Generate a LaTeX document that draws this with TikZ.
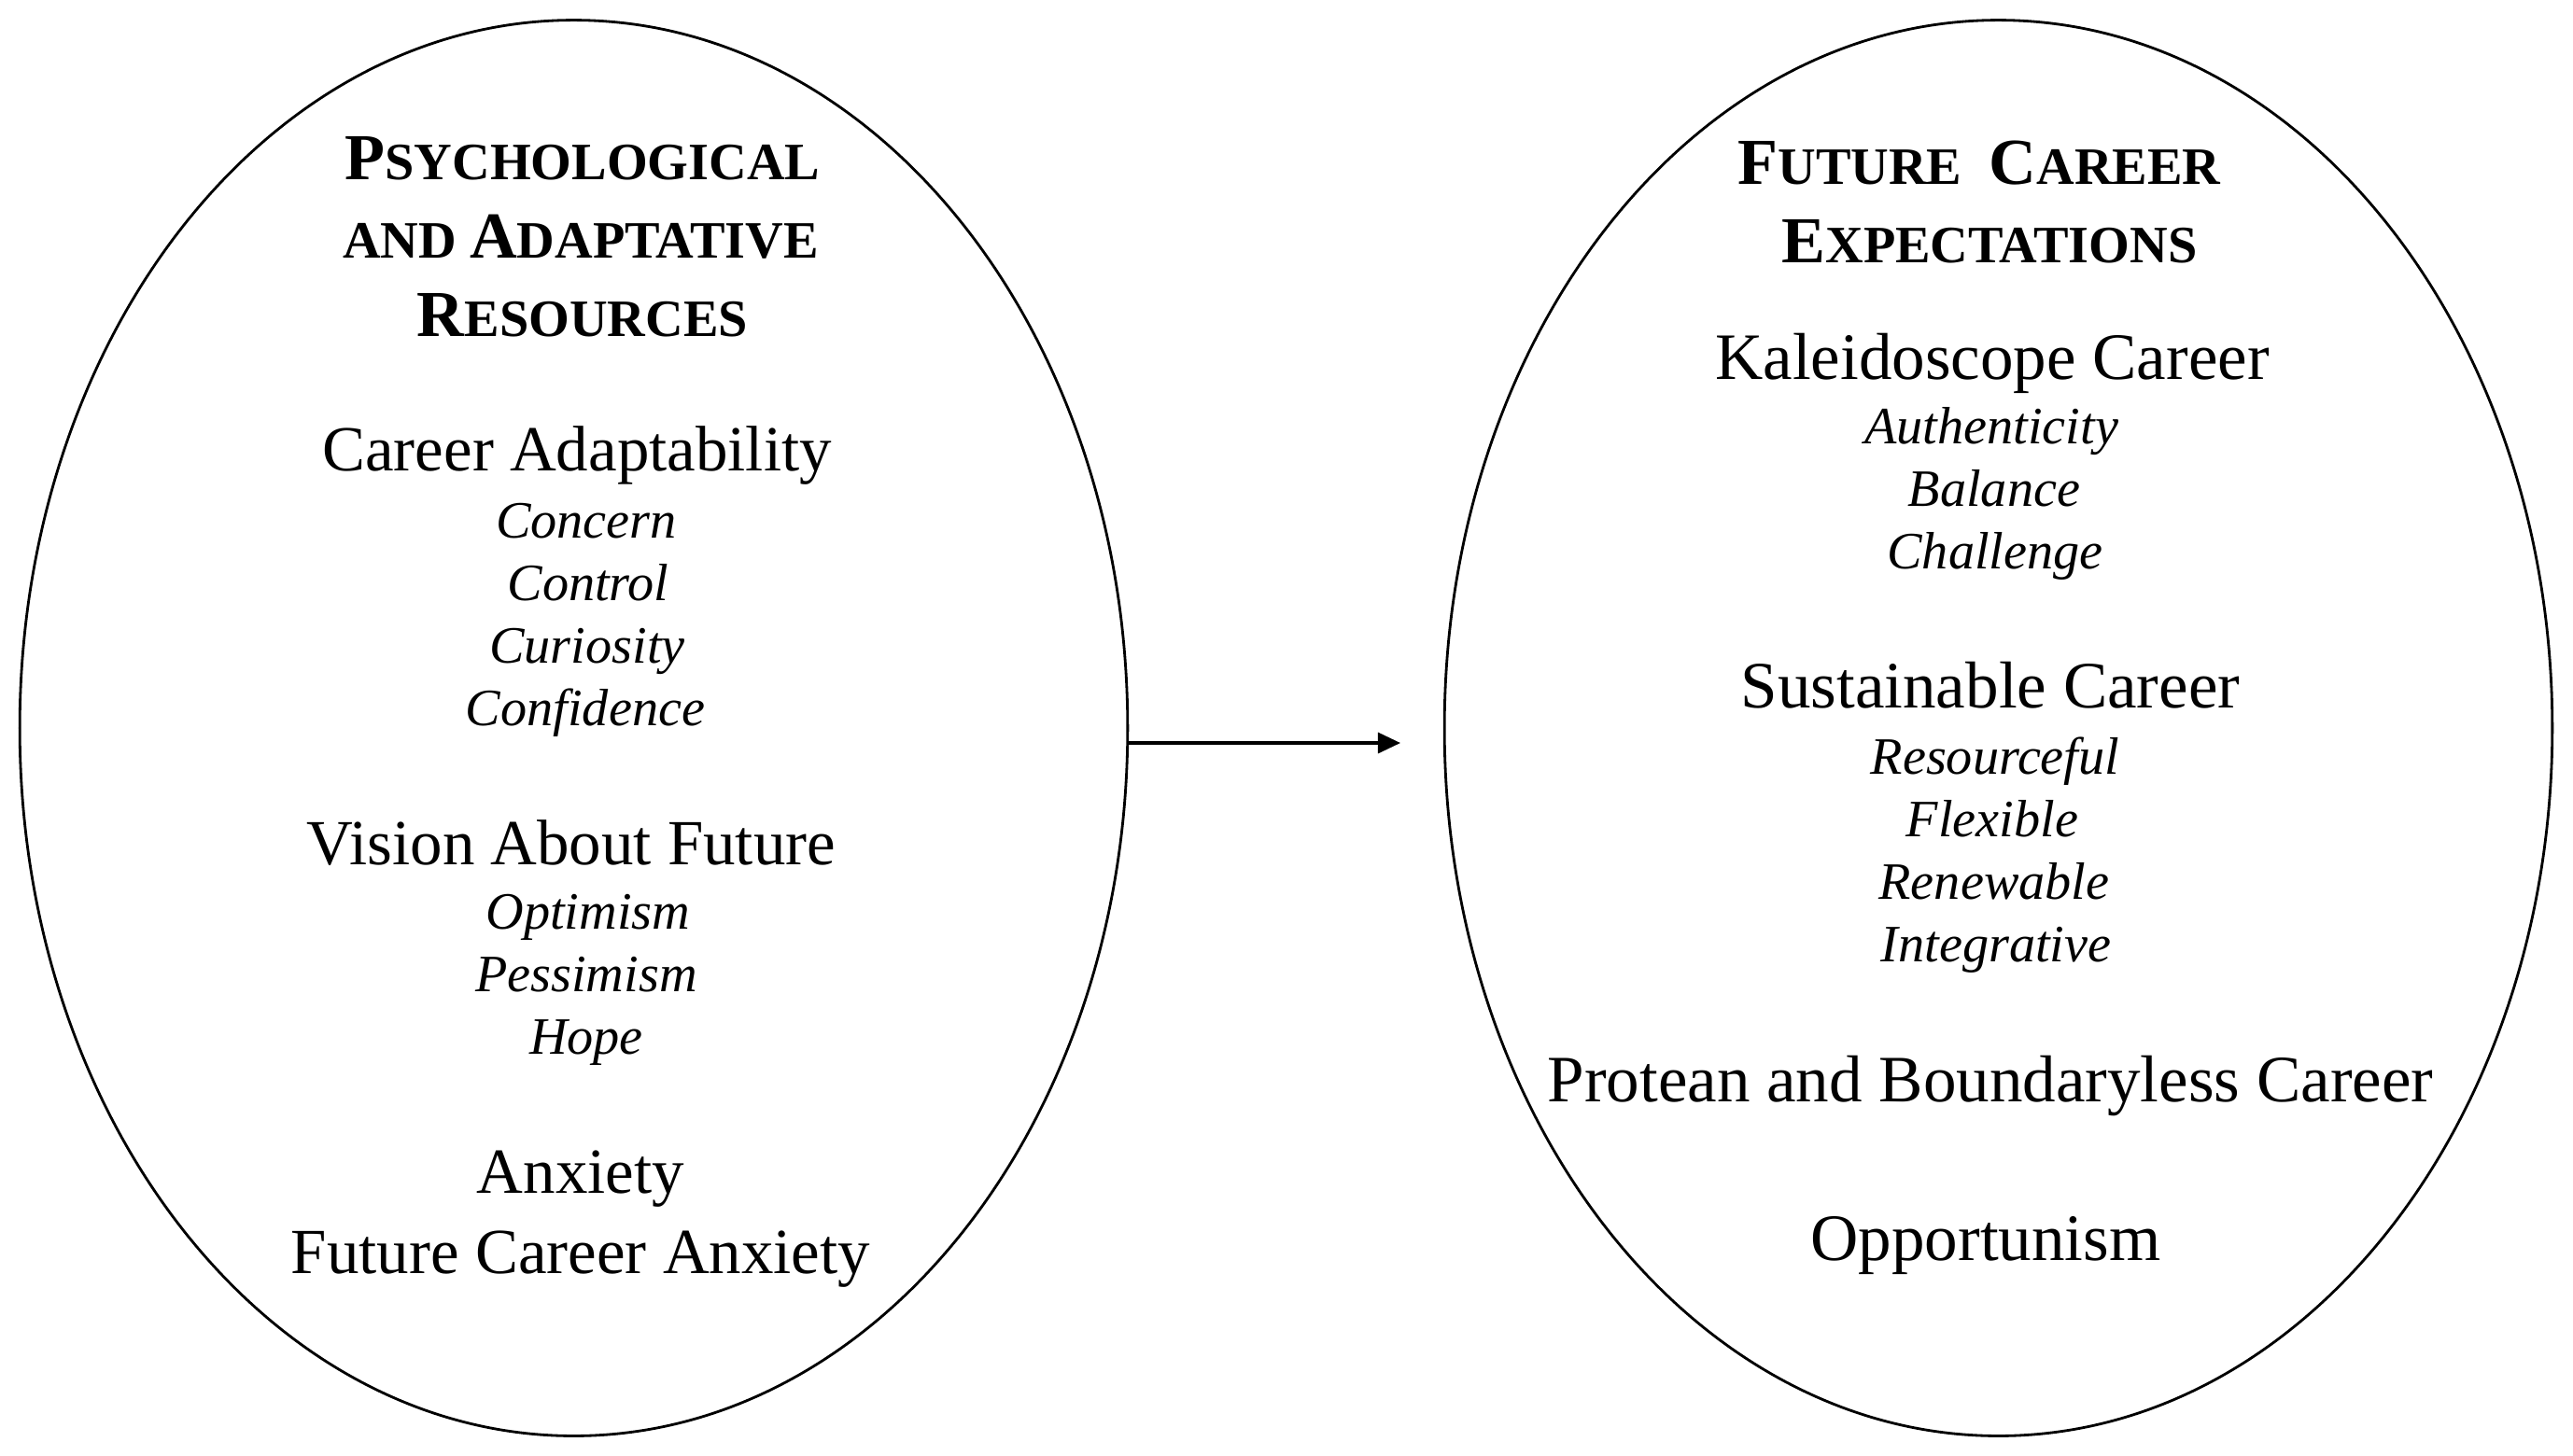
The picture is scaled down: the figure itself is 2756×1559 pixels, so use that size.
\documentclass[tikz,border=0pt]{standalone}
\usepackage{fontspec}
\setmainfont{Liberation Serif}
\usetikzlibrary{shapes.geometric,arrows.meta}
\newcommand\hb[1]{{\fontsize{20}{24}\selectfont #1}}
\newcommand\hs[1]{{\fontsize{16}{24}\selectfont #1}}
\begin{document}
\begin{tikzpicture}[x=0.01cm,y=-0.01cm,
  oval/.style={draw, ellipse, line width=0.8pt, inner sep=0pt, minimum width=11.86cm, minimum height=15.16cm},
  head/.style={anchor=base, inner sep=0pt, font=\bfseries},
  mainlbl/.style={anchor=base, inner sep=0pt, font=\fontsize{19.6}{23.4}\selectfont},
  mainlblr/.style={anchor=base, inner sep=0pt, font=\fontsize{20.2}{24}\selectfont},
  sublbl/.style={anchor=base, inner sep=0pt, font=\fontsize{16}{19.2}\selectfont\itshape},
  link/.style={line width=0.9pt, -{Triangle[length=0.24cm,width=0.22cm]}}]
\useasboundingbox (0,0) rectangle (2756,1559);

\node[oval] (L) at (614.5,780) {};
\node[oval] (R) at (2140.5,780) {};

% left column
\node[head] (lh1) at (624,192) {\hb{P}\hs{SYCHOLOGICAL}};
\node[head] (lh2) at (622,276) {\hs{AND }\hb{A}\hs{DAPTATIVE}};
\node[head] (lh3) at (624,360) {\hb{R}\hs{ESOURCES}};

\node[mainlbl] (ca) at (618,504) {Career Adaptability};
\node[sublbl] (ca1) at (628,576) {Concern};
\node[sublbl] (ca2) at (630,643) {Control};
\node[sublbl] (ca3) at (629,710) {Curiosity};
\node[sublbl] (ca4) at (627,777) {Confidence};

\node[mainlbl] (vf) at (612,926) {Vision About Future};
\node[sublbl] (vf1) at (630,995) {Optimism};
\node[sublbl] (vf2) at (628,1062) {Pessimism};
\node[sublbl] (vf3) at (628,1129) {Hope};

\node[mainlbl] (ax) at (622,1278) {Anxiety};
\node[mainlbl] (fca) at (622,1364) {Future Career Anxiety};

% right column
\node[head] (rh1) at (2120,197) {\hb{F}\hs{UTURE}\hb{\ \,}\hb{C}\hs{AREER}};
\node[head] (rh2) at (2131,281) {\hb{E}\hs{XPECTATIONS}};

\node[mainlblr] (kc) at (2134,406) {Kaleidoscope Career};
\node[sublbl] (kc1) at (2133,475) {Authenticity};
\node[sublbl] (kc2) at (2136,542) {Balance};
\node[sublbl] (kc3) at (2137,609) {Challenge};

\node[mainlblr] (sc) at (2132,758) {Sustainable Career};
\node[sublbl] (sc1) at (2137,829) {Resourceful};
\node[sublbl] (sc2) at (2134,896) {Flexible};
\node[sublbl] (sc3) at (2136,963) {Renewable};
\node[sublbl] (sc4) at (2138,1030) {Integrative};

\node[mainlblr] (pb) at (2132,1180) {Protean and Boundaryless Career};
\node[mainlblr] (op) at (2127,1350) {Opportunism};

\coordinate (tip) at (1500,796);
\draw[link] (L.east |- tip) -- (tip);
\end{tikzpicture}
\end{document}
